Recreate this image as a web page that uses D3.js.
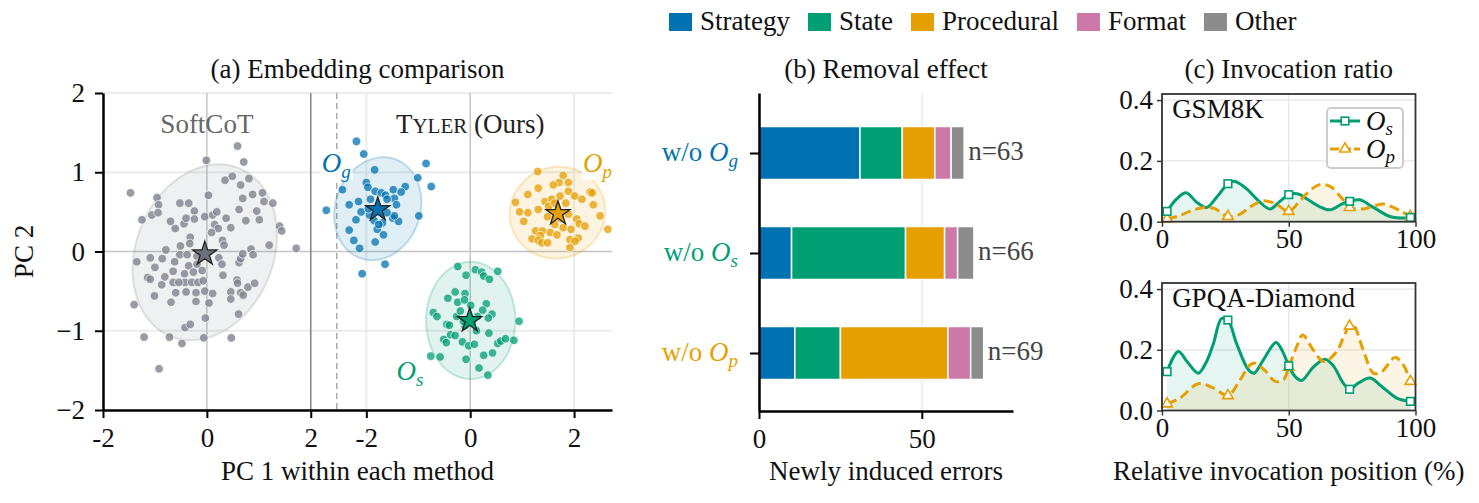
<!DOCTYPE html>
<html><head><meta charset="utf-8">
<script src="https://cdn.jsdelivr.net/npm/d3@7"></script>
<style>
body{margin:0;background:#fff}
svg text{font-family:'Liberation Serif','Tinos','Times New Roman','Nimbus Roman','DejaVu Serif',serif !important}
</style>
</head><body>
<svg id="c" width="1479" height="503"></svg>
<script>
// ---------------- DATA ----------------
// Panel (a): PCA points
const softPts=[[0.59,1.33],[-0.01,1.15],[0.71,1.13],[0.35,0.90],[0.49,0.95],[0.65,0.84],[0.81,0.92],[-1.47,0.74],[-0.96,0.68],[-0.93,0.59],[-0.52,0.61],[-0.35,0.61],[0.03,0.71],[0.69,0.67],[0.88,0.72],[1.07,0.74],[1.10,0.63],[1.27,0.61],[-1.25,0.40],[-1.06,0.46],[-0.94,0.49],[-0.70,0.38],[-0.61,0.29],[-0.44,0.35],[-0.40,0.42],[-0.24,0.51],[-0.24,0.41],[-0.04,0.44],[0.11,0.46],[0.19,0.50],[0.15,0.34],[0.22,0.29],[0.37,0.42],[0.46,0.30],[0.62,0.53],[0.75,0.39],[0.96,0.51],[1.01,0.40],[1.40,0.32],[1.44,0.26],[1.20,0.08],[1.72,0.04],[0.09,0.24],[0.30,0.14],[0.33,0.08],[-0.32,0.18],[-0.33,0.10],[-0.51,0.07],[-0.79,0.02],[-0.52,-0.04],[-0.38,-0.04],[-0.19,-0.06],[-1.35,-0.13],[-1.09,-0.08],[-0.86,-0.09],[-1.00,-0.20],[-0.62,-0.13],[-0.35,-0.18],[-0.19,-0.16],[0.23,-0.08],[0.29,-0.16],[0.31,-0.30],[0.62,-0.14],[0.65,-0.09],[0.69,-0.03],[0.85,0.03],[0.89,-0.04],[-1.14,-0.33],[-1.09,-0.35],[-0.87,-0.42],[-0.81,-0.32],[-0.65,-0.39],[-0.65,-0.25],[-0.43,-0.28],[-0.26,-0.26],[-0.09,-0.24],[-0.42,-0.39],[-0.29,-0.39],[-0.17,-0.39],[-0.07,-0.37],[-0.54,-0.39],[-0.60,-0.52],[-0.40,-0.51],[-0.21,-0.52],[-0.04,-0.50],[0.11,-0.53],[-0.21,-0.63],[0.04,-0.65],[-0.69,-0.64],[-1.01,-0.56],[-1.40,-0.67],[0.46,-0.51],[0.46,-0.60],[0.58,-0.36],[0.59,-0.40],[0.65,-0.52],[0.70,-0.55],[0.79,-0.45],[0.92,-0.40],[0.61,-0.79],[-0.03,-0.84],[-0.42,-0.96],[-0.32,-0.92],[-1.21,-1.08],[-0.72,-1.08],[-0.48,-1.16],[-0.06,-1.09],[0.47,-1.09],[-0.92,-1.48]];
const ogPts=[[-2.19,1.39],[-2.05,1.23],[-1.84,1.03],[-0.85,1.11],[-2.00,0.87],[-1.97,0.81],[-1.01,0.93],[-0.75,0.82],[-2.46,0.78],[-1.83,0.76],[-1.71,0.74],[-1.63,0.71],[-1.48,0.78],[-1.25,0.82],[-1.33,0.75],[-1.46,0.67],[-1.60,0.66],[-1.42,0.59],[-2.15,0.63],[-2.33,0.59],[-2.77,0.52],[-2.10,0.50],[-1.94,0.46],[-1.85,0.39],[-1.69,0.36],[-1.49,0.42],[-1.38,0.38],[-1.46,0.45],[-2.20,0.40],[-0.99,0.45],[-2.33,0.27],[-1.79,0.28],[-1.67,0.21],[-2.24,0.14],[-1.83,0.12],[-2.13,0.04],[-1.64,-0.16],[-2.08,-0.28],[-1.92,0.66],[-1.76,0.34],[-1.60,0.49],[-1.96,0.54]];
const osPts=[[-0.24,-0.19],[-0.08,-0.30],[0.10,-0.23],[0.22,-0.26],[0.26,-0.31],[0.37,-0.35],[0.53,-0.25],[-0.29,-0.51],[-0.43,-0.59],[-0.24,-0.64],[-0.10,-0.53],[-0.11,-0.61],[0.01,-0.68],[0.31,-0.66],[0.24,-0.74],[0.42,-0.79],[-0.71,-0.77],[-0.64,-0.82],[-0.45,-0.92],[-0.40,-0.93],[-0.26,-0.82],[-0.19,-0.75],[0.14,-0.82],[0.35,-0.84],[-0.10,-0.94],[0.12,-1.00],[0.36,-1.03],[-0.38,-1.05],[-0.29,-1.06],[-0.51,-1.11],[-0.46,-1.15],[-0.15,-1.14],[-0.03,-1.19],[0.08,-1.17],[0.53,-1.16],[0.59,-1.13],[0.68,-1.10],[0.84,-1.12],[0.94,-0.88],[-0.76,-1.32],[-0.58,-1.33],[-0.08,-1.36],[0.26,-1.31],[0.43,-1.28],[0.17,-1.47],[0.34,-1.56],[0.06,-0.86],[-0.13,-0.88]];
const opPts=[[1.30,1.01],[1.79,0.96],[1.71,0.87],[1.60,0.84],[1.89,0.87],[1.31,0.80],[1.11,0.72],[1.89,0.76],[0.87,0.62],[1.44,0.63],[1.57,0.66],[1.73,0.70],[1.84,0.61],[2.01,0.70],[2.15,0.66],[2.31,0.75],[2.35,0.74],[2.37,0.59],[0.95,0.50],[1.11,0.49],[1.31,0.53],[1.51,0.57],[1.63,0.61],[1.03,0.38],[1.49,0.44],[1.73,0.42],[1.89,0.47],[2.05,0.41],[2.10,0.35],[2.21,0.32],[2.50,0.45],[2.65,0.28],[1.26,0.26],[1.39,0.26],[1.35,0.20],[1.54,0.24],[1.79,0.30],[1.94,0.28],[2.08,0.17],[1.19,0.16],[1.31,0.14],[1.38,0.11],[1.49,0.11],[1.67,0.21],[1.92,0.15],[2.02,0.13],[1.92,0.05],[1.63,0.34]];
const clusterColors=["#7f838f","#0072B2","#009E73","#E69F00"];
const starColors=["#6c707b","#0072B2","#009E73","#E69F00"];
const ellipseCx=[-0.04,-1.78,0.01,1.68];
const ellipseCy=[-0.01,0.54,-0.87,0.49];
const ellipseW=[1.39,0.84,0.86,0.92];
const ellipseH=[1.11,0.65,0.74,0.58];
const ellipseC=[0.30,0.07,0.0,0.02];
const starX=[-0.04,-1.78,-0.01,1.69];
const starY=[-0.03,0.53,-0.87,0.48];
const tylerOffset=5.07;               // right half (Tyler) is shifted along the shared x axis
const panelOffset=[0,tylerOffset,tylerOffset,tylerOffset];
const xTickValsA=[-2,0,2,-2+tylerOffset,tylerOffset,2+tylerOffset];
const xTickLabelsA=["-2","0","2","-2","0","2"];
const yTickValsA=[-2,-1,0,1,2];
const yTickLabelsA=["\u22122","\u22121","0","1","2"];

// Panel (b): removal effect
const removalCats=["g","s","p"];
const removalColors=["#0072B2","#009E73","#E69F00"];
const errorTypes=["Strategy","State","Procedural","Format","Other"];
const errorColors=["#0072B2","#009E73","#E69F00","#CC79A7","#8c8c8c"];
const strategyVals=[31,10,11];
const stateVals=[13,35,14];
const proceduralVals=[10,12,33];
const formatVals=[5,4,7];
const otherVals=[4,5,4];
const xTicksB=[0,50];

// Panel (c): invocation ratio curves
const markerX=[2,26,50,74,98];
const gsmOs=[[2,0.034],[5.8,0.075],[9.5,0.095],[13.7,0.064],[17.6,0.047],[21.8,0.083],[26,0.125],[28.5,0.133],[33.4,0.108],[38,0.069],[42.6,0.042],[46.5,0.067],[50,0.089],[53.8,0.091],[57.7,0.072],[62,0.05],[66.3,0.039],[70.9,0.058],[74,0.067],[78,0.072],[83.4,0.047],[89.9,0.017],[94,0.012],[98,0.014]];
const gsmOp=[[2,0.009],[7,0.02],[12,0.038],[17.6,0.048],[21,0.042],[26,0.017],[30.8,0.025],[35,0.05],[40,0.069],[45,0.058],[50,0.034],[54.4,0.069],[58,0.1],[62.3,0.122],[66.3,0.116],[71.5,0.072],[74,0.047],[79.4,0.042],[83,0.05],[87.3,0.058],[93.9,0.036],[98,0.017]];
const gpqaOs=[[2,0.128],[6.4,0.194],[10,0.16],[14.3,0.123],[17.5,0.16],[20.3,0.221],[23.5,0.303],[26,0.298],[29.4,0.221],[34.1,0.134],[36.3,0.123],[40,0.167],[45,0.224],[47.9,0.189],[50,0.147],[52.5,0.112],[55.1,0.099],[59.7,0.143],[64.3,0.169],[67.6,0.147],[71.5,0.09],[74,0.07],[77.4,0.09],[82.1,0.107],[86.7,0.079],[92.6,0.041],[98,0.03]];
const gpqaOp=[[2,0.022],[7.1,0.041],[14.3,0.088],[20.3,0.074],[26,0.049],[30.8,0.101],[34.7,0.15],[36.7,0.156],[40.6,0.132],[44.6,0.096],[47.9,0.101],[50,0.143],[53.1,0.21],[55.5,0.249],[59.7,0.199],[63.9,0.161],[68.9,0.194],[72,0.25],[74,0.278],[75.5,0.281],[79.4,0.199],[83.4,0.123],[86.7,0.128],[91.9,0.175],[95.2,0.15],[98,0.096]];
const xTicksC=[0,50,100];
const yTicksC=[0,0.2,0.4];
const yTickLabelsC=["0.0","0.2","0.4"];
const subplotNames=["GSM8K","GPQA-Diamond"];

// ---------------- DRAW ----------------
const svg=d3.select("#c").style("font-family","'Liberation Serif',serif");
const FS=27;
const SERIF="'Liberation Serif','Tinos','Times New Roman',serif";

function styleAxis(g,color,width){
  g.attr("font-family",SERIF);
  g.select(".domain").attr("stroke",color).attr("stroke-width",width);
  g.selectAll(".tick line").attr("stroke",color).attr("stroke-width",width*0.8);
  g.selectAll(".tick text").attr("font-size",FS).attr("fill","#111");
}

// ===== Panel (a) =====
const xa=d3.scaleLinear().domain([-2,7.8]).range([103,612]);
const ya=d3.scaleLinear().domain([-2,2]).range([410,93]);
const ga=svg.append("g");
ga.append("defs").append("clipPath").attr("id","clipA").append("rect")
  .attr("x",xa(-2)).attr("y",ya(2)).attr("width",xa(7.8)-xa(-2)).attr("height",ya(-2)-ya(2));
[1,-1,2].forEach(v=>ga.append("line").attr("x1",xa(-2)).attr("x2",xa(7.8)).attr("y1",ya(v)).attr("y2",ya(v)).attr("stroke","#ececec").attr("stroke-width",2));
[-2+tylerOffset,2+tylerOffset].forEach(v=>ga.append("line").attr("x1",xa(v)).attr("x2",xa(v)).attr("y1",ya(2)).attr("y2",ya(-2)).attr("stroke","#ececec").attr("stroke-width",2));
ga.append("line").attr("x1",xa(-2)).attr("x2",xa(7.8)).attr("y1",ya(0)).attr("y2",ya(0)).attr("stroke","#c4c4c4").attr("stroke-width",1.5);
[0,tylerOffset].forEach(v=>ga.append("line").attr("x1",xa(v)).attr("x2",xa(v)).attr("y1",ya(2)).attr("y2",ya(-2)).attr("stroke","#c4c4c4").attr("stroke-width",1.5));
ga.append("line").attr("x1",xa(2)).attr("x2",xa(2)).attr("y1",ya(2)).attr("y2",ya(-2)).attr("stroke","#888").attr("stroke-width",1.6);
ga.append("line").attr("x1",xa(2.5)).attr("x2",xa(2.5)).attr("y1",ya(2)).attr("y2",ya(-2)).attr("stroke","#aaa").attr("stroke-width",1.5).attr("stroke-dasharray","6,4");

const clusters=[softPts,ogPts,osPts,opPts];
const plotA=ga.append("g").attr("clip-path","url(#clipA)");
clusters.forEach((pts,k)=>{
  const off=panelOffset[k];
  const ts=d3.range(0,101).map(i=>i/100*2*Math.PI);
  const W=ellipseW[k],H=ellipseH[k],C=ellipseC[k];
  const b=C/W, cc=Math.sqrt(H*H-b*b);
  const ell=d3.line().x(t=>xa(ellipseCx[k]+off+W*Math.cos(t))).y(t=>ya(ellipseCy[k]+b*Math.cos(t)+cc*Math.sin(t)));
  plotA.append("path").attr("d",ell(ts)+"Z").attr("fill",clusterColors[k]).attr("fill-opacity",0.12)
    .attr("stroke",clusterColors[k]).attr("stroke-opacity",0.22).attr("stroke-width",2);
  plotA.append("g").selectAll("circle").data(pts).join("circle")
    .attr("cx",d=>xa(d[0]+off)).attr("cy",d=>ya(d[1])).attr("r",4.3)
    .attr("fill",clusterColors[k]).attr("fill-opacity",k===0?0.8:0.75)
    .attr("stroke","#fff").attr("stroke-width",0.7);
});
clusters.forEach((pts,k)=>{
  plotA.append("path").attr("d",d3.symbol(d3.symbolStar,180)())
    .attr("transform",`translate(${xa(starX[k]+panelOffset[k])},${ya(starY[k])})`)
    .attr("fill",starColors[k]).attr("stroke","#222").attr("stroke-width",1.3);
});
const axA_y=ga.append("g").attr("transform",`translate(${xa(-2)},0)`)
  .call(d3.axisLeft(ya).tickValues(yTickValsA).tickFormat((d,i)=>yTickLabelsA[i]).tickSize(8).tickPadding(10).tickSizeOuter(0));
styleAxis(axA_y,"#000",2.5);
const axA_x=ga.append("g").attr("transform",`translate(0,${ya(-2)})`)
  .call(d3.axisBottom(xa).tickValues(xTickValsA).tickFormat((d,i)=>xTickLabelsA[i]).tickSize(8).tickPadding(10).tickSizeOuter(0));
styleAxis(axA_x,"#000",2.5);
ga.append("text").attr("x",xa(0)).attr("y",ya(1.5)).attr("text-anchor","middle").attr("font-size",FS).attr("fill","#666").text("SoftCoT");
const ty=ga.append("text").attr("x",xa(tylerOffset)).attr("y",ya(1.5)).attr("text-anchor","middle").attr("font-size",FS).attr("fill","#222");
ty.append("tspan").text("T");ty.append("tspan").attr("font-size",21).text("YLER");ty.append("tspan").text(" (Ours)");
const clusterLabels=[["g",-2.86,1.0,1],["p",2.17,1.0,3],["s",-1.42,-1.62,2]];
clusterLabels.forEach(([s,x,y,k])=>{
  const g=ga.append("g");
  const t=g.append("text").attr("x",xa(x+tylerOffset)).attr("y",ya(y)).attr("font-size",FS).attr("fill",clusterColors[k]);
  t.append("tspan").attr("font-style","italic").text("O");
  t.append("tspan").attr("font-style","italic").attr("font-size",19).attr("dy",6).text(s);
  const bb=t.node().getBBox();
  g.insert("rect","text").attr("x",bb.x-1).attr("y",bb.y+2).attr("width",bb.width+3).attr("height",bb.height-4).attr("fill","#fff").attr("fill-opacity",0.85);
});
ga.append("text").attr("x",(xa(-2)+xa(7.8))/2).attr("y",78).attr("text-anchor","middle").attr("font-size",FS).attr("fill","#111").text("(a) Embedding comparison");
ga.append("text").attr("x",(xa(-2)+xa(7.8))/2).attr("y",480).attr("text-anchor","middle").attr("font-size",FS).attr("fill","#111").text("PC 1 within each method");
ga.append("text").attr("transform",`translate(33,${ya(0)}) rotate(-90)`).attr("text-anchor","middle").attr("font-size",FS).attr("fill","#111").text("PC 2");

// ===== Panel (b) =====
const xb=d3.scaleLinear().domain([0,78]).range([759,1013]);
const yb=d3.scaleLinear().domain([-0.6,2.58]).range([93,411]);
const gb=svg.append("g");
xTicksB.forEach(v=>gb.append("line").attr("x1",xb(v)).attr("x2",xb(v)).attr("y1",yb(-0.6)).attr("y2",yb(2.58)).attr("stroke","#eeeeee").attr("stroke-width",2));
const rows=removalCats.map((c,i)=>({cat:i,Strategy:strategyVals[i],State:stateVals[i],Procedural:proceduralVals[i],Format:formatVals[i],Other:otherVals[i]}));
const stack=d3.stack().keys(errorTypes)(rows);
stack.forEach((layer,li)=>{
  gb.append("g").selectAll("rect").data(layer).join("rect")
    .attr("x",d=>xb(d[0])).attr("width",d=>xb(d[1])-xb(d[0]))
    .attr("y",(d,i)=>yb(i-0.265)).attr("height",(d,i)=>yb(i+0.265)-yb(i-0.265))
    .attr("fill",errorColors[li]).attr("stroke","#fff").attr("stroke-width",1.5);
});
rows.forEach((r,i)=>{
  const tot=errorTypes.reduce((s,k)=>s+r[k],0);
  gb.append("text").attr("x",xb(tot)+4).attr("y",yb(i)).attr("dy","0.25em").attr("font-size",FS).attr("fill","#444").text("n="+tot);
});
const axB_y=gb.append("g").attr("transform",`translate(${xb(0)},0)`)
  .call(d3.axisLeft(yb).tickValues([0,1,2]).tickFormat(()=>"").tickSize(9).tickPadding(12).tickSizeOuter(0));
styleAxis(axB_y,"#000",2.5);
axB_y.selectAll(".tick text").attr("dy","0.27em").each(function(d,i){
  const t=d3.select(this).attr("fill",removalColors[i]);
  t.append("tspan").text("w/o ");
  t.append("tspan").attr("font-style","italic").text("O");
  t.append("tspan").attr("font-style","italic").attr("font-size",19).attr("dy",6).text(removalCats[i]);
});
const axB_x=gb.append("g").attr("transform",`translate(0,${yb(2.58)})`)
  .call(d3.axisBottom(xb).tickValues(xTicksB).tickSize(8).tickPadding(10).tickSizeOuter(0));
styleAxis(axB_x,"#000",2.5);
gb.append("text").attr("x",(xb(0)+xb(78))/2).attr("y",78).attr("text-anchor","middle").attr("font-size",FS).attr("fill","#111").text("(b) Removal effect");
gb.append("text").attr("x",(xb(0)+xb(78))/2).attr("y",480).attr("text-anchor","middle").attr("font-size",FS).attr("fill","#111").text("Newly induced errors");

// ===== Panel (c) =====
const xc=d3.scaleLinear().domain([0,100]).range([1162,1415.5]);
const ycs=[d3.scaleLinear().domain([0,0.42]).range([221.7,94]),d3.scaleLinear().domain([0,0.42]).range([410.5,283])];
const curves=[[gsmOs,gsmOp],[gpqaOs,gpqaOp]];
const osColor="#009E73",opColor="#E69F00";
ycs.forEach((yc,si)=>{
  const g=svg.append("g");
  xTicksC.forEach(v=>g.append("line").attr("x1",xc(v)).attr("x2",xc(v)).attr("y1",yc(0)).attr("y2",yc(0.42)).attr("stroke","#e6e6e6").attr("stroke-width",1.2));
  yTicksC.forEach(v=>g.append("line").attr("x1",xc(0)).attr("x2",xc(100)).attr("y1",yc(v)).attr("y2",yc(v)).attr("stroke","#e6e6e6").attr("stroke-width",1.2));
  const [os,op]=curves[si];
  const cur=d3.curveCatmullRom.alpha(0.5);
  const area=d3.area().x(d=>xc(d[0])).y0(yc(0)).y1(d=>yc(d[1])).curve(cur);
  const line=d3.line().x(d=>xc(d[0])).y(d=>yc(d[1])).curve(cur);
  g.append("path").attr("d",area(os)).attr("fill",osColor).attr("fill-opacity",0.1);
  g.append("path").attr("d",area(op)).attr("fill",opColor).attr("fill-opacity",0.1);
  g.append("path").attr("d",line(os)).attr("fill","none").attr("stroke",osColor).attr("stroke-width",3);
  g.append("path").attr("d",line(op)).attr("fill","none").attr("stroke",opColor).attr("stroke-width",3).attr("stroke-dasharray","10,5");
  const isM=d=>markerX.some(m=>Math.abs(m-d[0])<0.5);
  g.append("g").selectAll("path").data(op.filter(isM)).join("path")
    .attr("d",d3.symbol(d3.symbolTriangle,48)()).attr("transform",d=>`translate(${xc(d[0])},${yc(d[1])})`)
    .attr("fill","#fff").attr("stroke",opColor).attr("stroke-width",1.6);
  g.append("g").selectAll("rect").data(os.filter(isM)).join("rect")
    .attr("x",d=>xc(d[0])-3.8).attr("y",d=>yc(d[1])-3.8).attr("width",7.6).attr("height",7.6)
    .attr("fill","#fff").attr("stroke",osColor).attr("stroke-width",1.6);
  g.append("rect").attr("x",xc(0)).attr("y",yc(0.42)).attr("width",xc(100)-xc(0)).attr("height",yc(0)-yc(0.42))
    .attr("fill","none").attr("stroke","#333").attr("stroke-width",1.8);
  const ay=g.append("g").attr("transform",`translate(${xc(0)},0)`)
    .call(d3.axisLeft(yc).tickValues(yTicksC).tickFormat((d,i)=>yTickLabelsC[i]).tickSize(5).tickPadding(4).tickSizeOuter(0));
  styleAxis(ay,"#333",1.8); ay.select(".domain").remove();
  const ax=g.append("g").attr("transform",`translate(0,${yc(0)})`)
    .call(d3.axisBottom(xc).tickValues(xTicksC).tickSize(5).tickPadding(2).tickSizeOuter(0));
  styleAxis(ax,"#333",1.8); ax.select(".domain").remove();
  g.append("text").attr("x",xc(4)).attr("y",yc(0.42)+24).attr("font-size",FS).attr("fill","#111").text(subplotNames[si]);
  if(si===0){
    const lg=g.append("g");
    lg.append("rect").attr("x",1327).attr("y",108).attr("width",76).attr("height",60).attr("rx",4)
      .attr("fill","#fff").attr("fill-opacity",0.85).attr("stroke","#cccccc").attr("stroke-width",2);
    const ents=[["s",osColor,null,121],["p",opColor,"10,5",149]];
    ents.forEach(([s,col,dash,yy],j)=>{
      lg.append("line").attr("x1",1330).attr("x2",1360).attr("y1",yy).attr("y2",yy).attr("stroke",col).attr("stroke-width",3).attr("stroke-dasharray",dash?"9,3":null);
      if(j===0) lg.append("rect").attr("x",1345-3.8).attr("y",yy-3.8).attr("width",7.6).attr("height",7.6).attr("fill","#fff").attr("stroke",col).attr("stroke-width",1.6);
      else lg.append("path").attr("d",d3.symbol(d3.symbolTriangle,48)()).attr("transform",`translate(1345,${yy})`).attr("fill","#fff").attr("stroke",col).attr("stroke-width",1.6);
      const t=lg.append("text").attr("x",1366).attr("y",yy+9).attr("font-size",FS).attr("fill","#111");
      t.append("tspan").attr("font-style","italic").text("O");
      t.append("tspan").attr("font-style","italic").attr("font-size",19).attr("dy",5).text(s);
    });
  }
});
svg.append("text").attr("x",(xc(0)+xc(100))/2).attr("y",78).attr("text-anchor","middle").attr("font-size",FS).attr("fill","#111").text("(c) Invocation ratio");
svg.append("text").attr("x",(xc(0)+xc(100))/2).attr("y",480).attr("text-anchor","middle").attr("font-size",FS).attr("fill","#111").text("Relative invocation position (%)");

// force the serif face on every text node before measuring the legend
svg.selectAll("text").attr("font-family",SERIF).style("font-family",SERIF,"important");

// top legend (laid out with measured text widths)
let lx=669;
errorTypes.forEach((name,i)=>{
  svg.append("rect").attr("x",lx).attr("y",13).attr("width",23).attr("height",18).attr("fill",errorColors[i]);
  const t=svg.append("text").attr("x",lx+31).attr("y",30).attr("font-size",FS).attr("fill","#111")
    .attr("font-family",SERIF).style("font-family",SERIF,"important").text(name);
  lx+=31+t.node().getComputedTextLength()+18;
});
</script>
</body></html>
